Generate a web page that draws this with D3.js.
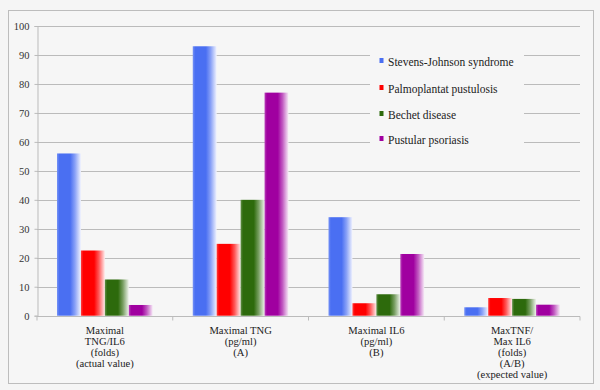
<!DOCTYPE html>
<html><head><meta charset="utf-8">
<script src="https://cdn.jsdelivr.net/npm/d3@7"></script>
<style>
body{margin:0;background:#f5f5f5;}
svg{display:block;}
svg text{font-family:"Liberation Serif" !important;}
</style>
</head><body>
<svg id="c" width="600" height="390"></svg>
<script>
const categories = [
  ["Maximal","TNG/IL6","(folds)","(actual value)"],
  ["Maximal TNG","(pg/ml)","(A)"],
  ["Maximal IL6","(pg/ml)","(B)"],
  ["MaxTNF/","Max IL6","(folds)","(A/B)","(expected value)"]
];
const seriesNames = ["Stevens-Johnson syndrome","Palmoplantat pustulosis","Bechet disease","Pustular psoriasis"];
const seriesColors = ["#4a6ff2","#ff0000","#2d6a0c","#a000a0"];
const stevensJohnson = [56, 93, 34, 2.9];
const palmoplantat = [22.5, 24.8, 4.3, 6.1];
const bechet = [12.5, 40, 7.4, 5.8];
const pustular = [3.7, 77, 21.3, 3.8];
const yTicks = [0,10,20,30,40,50,60,70,80,90,100];

(function(){
const series = [stevensJohnson, palmoplantat, bechet, pustular];
const svg = d3.select("#c");
const W=600,H=390;
const FF = "Liberation Serif";
svg.append("rect").attr("x",0).attr("y",0).attr("width",W).attr("height",H).attr("fill","#f5f5f5");
svg.append("rect").attr("x",8.5).attr("y",10.5).attr("width",585).attr("height",373)
  .attr("fill","#f6f6f6").attr("stroke","#bdbdbd").attr("stroke-width",1);

const pL=37,pR=580,pT=26,pB=315.7;
const x0 = d3.scaleBand().domain(d3.range(categories.length)).range([pL,pR]).paddingInner(0).paddingOuter(0);
const x1 = d3.scaleBand().domain(d3.range(series.length)).range([20, x0.bandwidth()-20]).padding(0);
const y = d3.scaleLinear().domain([0,100]).range([pB,pT]);

const defs = svg.append("defs");
seriesColors.forEach((c,i)=>{
  const g = defs.append("linearGradient").attr("id","g"+i).attr("x1","0").attr("x2","1").attr("y1","0").attr("y2","0");
  const light = d3.interpolateRgb(c,"#ffffff");
  g.append("stop").attr("offset","0%").attr("stop-color",light(0.25));
  g.append("stop").attr("offset","10%").attr("stop-color",c);
  g.append("stop").attr("offset","55%").attr("stop-color",c);
  g.append("stop").attr("offset","75%").attr("stop-color",light(0.35));
  g.append("stop").attr("offset","100%").attr("stop-color",light(0.92));
});

svg.append("g").selectAll("line").data(yTicks.filter(d=>d>0)).join("line")
  .attr("x1",pL).attr("x2",pR).attr("y1",d=>Math.round(y(d))+0.5).attr("y2",d=>Math.round(y(d))+0.5)
  .attr("stroke","#bbbbbb").attr("stroke-width",1);

const yAxis = d3.axisLeft(y).tickValues(yTicks).tickSize(3).tickPadding(5);
const ya = svg.append("g").attr("transform",`translate(${pL+0.5},0)`).call(yAxis);
ya.attr("font-family",FF).attr("font-size",10.5);
ya.select(".domain").attr("stroke","#bbbbbb");
ya.selectAll(".tick line").attr("stroke","#bbbbbb");
ya.selectAll("text").attr("font-family",FF).attr("fill","#333");

const xa = svg.append("g").attr("transform",`translate(0,${Math.round(pB)+0.5})`);
xa.append("line").attr("x1",pL).attr("x2",pR).attr("stroke","#bbbbbb");
xa.selectAll(".tk").data(d3.range(categories.length+1)).join("line")
  .attr("x1",d=>d<categories.length? x0(d): pR).attr("x2",d=>d<categories.length? x0(d): pR)
  .attr("y1",0).attr("y2",4).attr("stroke","#bbbbbb");

const gb = svg.append("g");
categories.forEach((cat,ci)=>{
  series.forEach((s,si)=>{
    gb.append("rect").attr("x",x0(ci)+x1(si)).attr("width",x1.bandwidth())
      .attr("y",y(s[ci])).attr("height",y(0)-y(s[ci]))
      .attr("fill",`url(#g${si})`);
  });
});

categories.forEach((lines,ci)=>{
  const cx = x0(ci)+x0.bandwidth()/2;
  lines.forEach((l,i)=>svg.append("text").attr("x",cx).attr("y",333.5+i*11.1)
    .attr("text-anchor","middle").attr("font-family",FF)
    .attr("font-size",10.6).attr("fill","#222").text(l));
});

svg.append("rect").attr("x",370).attr("y",45).attr("width",154).attr("height",110).attr("fill","#f6f6f6");
const lg = svg.append("g");
seriesNames.forEach((n,i)=>{
  const yy = [62,89,115,140][i];
  lg.append("rect").attr("x",379.5).attr("y",yy-4).attr("width",4).attr("height",5).attr("fill",seriesColors[i]);
  lg.append("text").attr("x",388).attr("y",yy+3.8).attr("font-family",FF)
    .attr("font-size",11.5).attr("fill","#222").text(n);
});
})();
</script>
</body></html>
